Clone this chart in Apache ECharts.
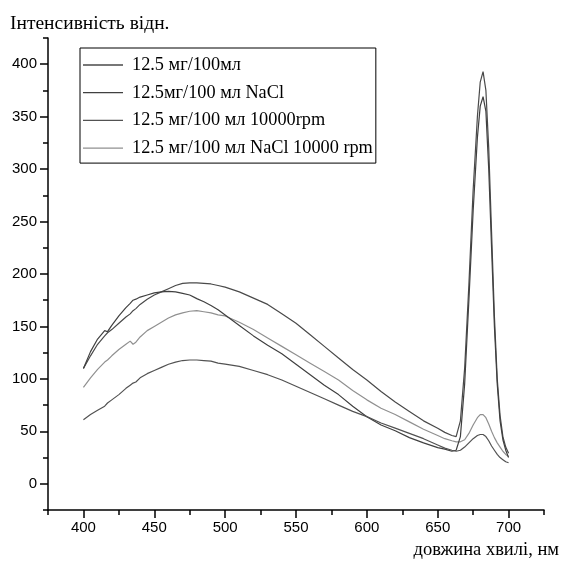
<!DOCTYPE html>
<html>
<head>
<meta charset="utf-8">
<script src="https://cdn.jsdelivr.net/npm/echarts@6/dist/echarts.min.js"></script>
<style>html,body{margin:0;padding:0;background:#fff}#c{width:565px;height:569px}</style>
</head>
<body>
<div id="c"></div>
<script>
// wavelength, nm
const wavelengths = [400,405,410,415,417,420,425,430,433,435,437,440,445,450,455,460,465,470,475,480,485,490,495,500,510,520,530,540,550,560,570,580,590,600,610,620,630,640,650,655,660,663,666,669,672,675,678,680,682,684,686,688,690,692,694,696,698,700];

const names = ["12.5 мг/100мл", "12.5мг/100 мл NaCl", "12.5 мг/100 мл 10000rpm", "12.5 мг/100 мл NaCl 10000 rpm"];

const seriesA = [110,122,133,141,144,147,153,159,162,165,167,171,176,180,183,186,189,191,191.5,191.5,191,190.5,189,187.5,183,177,171,162,153,142,131,120,109,99,88,78,69,60,53,49,46,45,60,110,190,280,350,383,393,375,320,240,160,100,65,45,35,29];
const seriesB = [110,126,138,146,145,151,160,168,172,175,176,178,180,182,183,183.5,183,181.5,180,176.5,173.5,170,166,161,151,141,132,124,114,104,94,85,74,64,56,50.5,44,39,34.5,33,31,32,45,95,175,260,330,360,369,355,300,225,150,95,60,42,32,25];
const seriesC = [61,66,70,74,77,80,85,91,94,96,97,101,105,108,111,114,116,117.5,118,118,117.5,117,115,114,112,108,104,99,93,87,81,75,69,64,58,53,48,43,37,34,32,31,32,35,39,43,46,47,47,45,41,36,32,28,25,23,21,20];
const seriesD = [92,101,109,116,118,122,128,133,136,133,135,140,146,150,154,158,161,163,164.5,165,164,163,161,160,154,147,139,131,123,115,107,99,89,80,72,66,59,52,46,43,41,40,40,42,48,56,63,66,66,63,57,50,44,39,35,31,28,26];

const xMajor = [400,450,500,550,600,650,700];
const xMinor = [375,425,475,525,575,625,675,725];
const yMajor = [0,50,100,150,200,250,300,350,400];
const yMinor = [-25,25,75,125,175,225,275,325,375,425];

const colors = ['#4a4a4a', '#404040', '#525252', '#909090'];
const allData = [seriesA, seriesB, seriesC, seriesD];

const axisCol = '#000';
function mkX(major, minor) {
  return [
    {type:'value', min:375, max:725, gridIndex:0, position:'bottom',
     axisLine:{show:true, onZero:false, lineStyle:{color:axisCol, width:1.5}},
     axisTick:{show:true, customValues:major, length:8, lineStyle:{color:axisCol, width:1.5}},
     axisLabel:{customValues:major, color:'#000', fontFamily:'Liberation Sans', fontSize:15, margin:10},
     splitLine:{show:false}},
    {type:'value', min:375, max:725, gridIndex:0, position:'bottom', offset:0,
     axisLine:{show:false, onZero:false},
     axisTick:{show:true, customValues:minor, length:5, lineStyle:{color:axisCol, width:1.5}},
     axisLabel:{show:false}, splitLine:{show:false}}
  ];
}
function mkY(major, minor) {
  return [
    {type:'value', min:-25, max:425, gridIndex:0, position:'left',
     axisLine:{show:true, onZero:false, lineStyle:{color:axisCol, width:1.5}},
     axisTick:{show:true, customValues:major, length:8, lineStyle:{color:axisCol, width:1.5}},
     axisLabel:{customValues:major, color:'#000', fontFamily:'Liberation Sans', fontSize:15, margin:11},
     splitLine:{show:false}},
    {type:'value', min:-25, max:425, gridIndex:0, position:'left', offset:0,
     axisLine:{show:false, onZero:false},
     axisTick:{show:true, customValues:minor, length:5, lineStyle:{color:axisCol, width:1.5}},
     axisLabel:{show:false}, splitLine:{show:false}}
  ];
}

const series = names.map((n, i) => ({
  name: n, type: 'line', symbol: 'none', showSymbol: false, xAxisIndex: 0, yAxisIndex: 0,
  data: wavelengths.map((w, k) => [w, allData[i][k]]),
  lineStyle: {color: colors[i], width: 1.2},
  itemStyle: {color: colors[i]},
  z: i === 3 ? 1 : 2
}));

const chart = echarts.init(document.getElementById('c'));
chart.setOption({
  animation: false,
  backgroundColor: '#fff',
  grid: {left: 48, right: 21, top: 38, bottom: 59},
  title: [
    {text: 'Інтенсивність відн.', left: 5, top: 9,
     textStyle: {fontFamily: 'Liberation Serif', fontSize: 19.5, fontWeight: 'normal', color: '#000'}},
    {text: 'довжина хвилі, нм', right: 1, top: 536,
     textStyle: {fontFamily: 'Liberation Serif', fontSize: 18.5, fontWeight: 'normal', color: '#000'}}
  ],
  legend: {
    orient: 'vertical', left: 80, top: 48,
    borderColor: '#000', borderWidth: 1,
    padding: [8, 3, 6, 3],
    icon: 'rect',
    itemWidth: 40, itemHeight: 1.3, itemGap: 9.7,
    textStyle: {fontFamily: 'Liberation Serif', fontSize: 18.3, color: '#000', lineHeight: 18, padding: [0,0,0,4]},
    data: names
  },
  xAxis: mkX(xMajor, xMinor),
  yAxis: mkY(yMajor, yMinor),
  series: series
});
</script>
</body>
</html>
